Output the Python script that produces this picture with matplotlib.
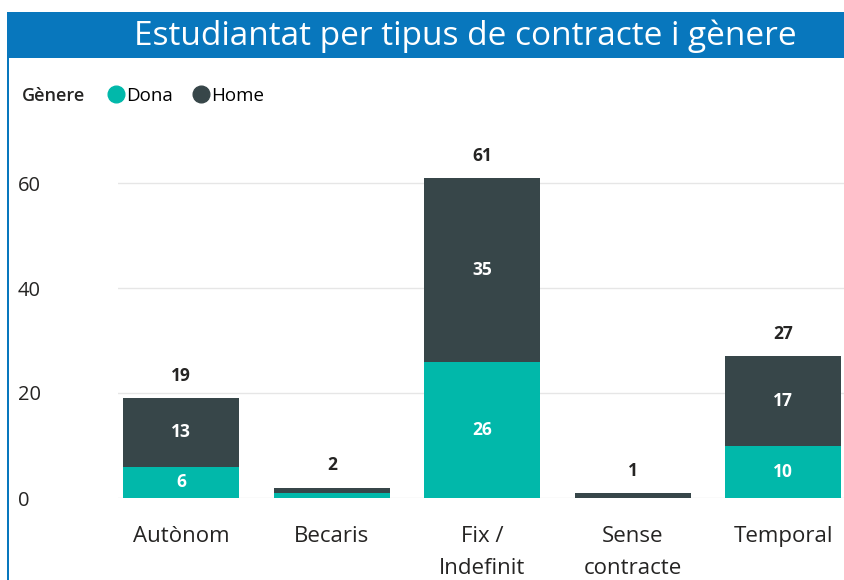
import matplotlib
matplotlib.use('Agg')
import numpy as np
import matplotlib.pyplot as plt
from matplotlib.patches import Rectangle
from matplotlib.lines import Line2D

categories = ['Autònom', 'Becaris', 'Fix /\nIndefinit', 'Sense\ncontracte', 'Temporal']
dona = [6, 1, 26, 0, 10]
home = [13, 1, 35, 1, 17]
yticks = [0, 20, 40, 60]

teal = '#01B8AA'
dark = '#374649'
blue = '#0877BD'
font = ['Open Sans', 'DejaVu Sans']
plt.rcParams['font.family'] = font

fig = plt.figure(figsize=(8.45, 5.8), dpi=100)
W, H = 845, 580

# frame: title bar and left border
fig.patches.append(Rectangle((7 / W, 1 - 58 / H), 1, 46 / H, transform=fig.transFigure,
                             facecolor=blue, edgecolor='none'))
fig.patches.append(Rectangle((7 / W, 0), 2 / W, 1 - 12 / H, transform=fig.transFigure,
                             facecolor=blue, edgecolor='none'))
fig.text(465 / W, 1 - 36 / H, 'Estudiantat per tipus de contracte i gènere', color='white',
         fontsize=24, ha='center', va='center')

# legend
fig.text(22 / W, 1 - 96 / H, 'Gènere', fontsize=13, fontweight='semibold', color='#252423',
         ha='left', va='center')
handles = [Line2D([], [], marker='o', ls='none', color=teal, markersize=12),
           Line2D([], [], marker='o', ls='none', color=dark, markersize=12)]
fig.legend(handles, ['Dona', 'Home'], loc='center left', bbox_to_anchor=(106 / W, 1 - 96 / H),
           ncol=2, frameon=False, handletextpad=0.0, columnspacing=0.9, fontsize=13.5,
           handlelength=1.1, borderaxespad=0, borderpad=0)

ax = fig.add_axes([118 / W, 82 / H, 1 - 118 / W, (498 - 151.5) / H])
x = np.arange(len(categories))
w = 0.77
ax.bar(x, dona, w, color=teal, zorder=3)
ax.bar(x, home, w, bottom=dona, color=dark, zorder=3)

for i in range(len(categories)):
    if dona[i] >= 3:
        ax.text(x[i], dona[i] / 2, str(dona[i]), color='white', fontsize=12.5, fontweight='bold',
                ha='center', va='center', zorder=4)
    if home[i] >= 3:
        ax.text(x[i], dona[i] + home[i] / 2, str(home[i]), color='white', fontsize=12.5,
                fontweight='bold', ha='center', va='center', zorder=4)
    tot = dona[i] + home[i]
    ax.annotate(str(tot), (x[i], tot), xytext=(0, 16), textcoords='offset points',
                ha='center', va='center', fontsize=12.5, fontweight='bold', color='#252423')

ax.set_xlim(-0.42, 4.41)
ax.set_ylim(0, 66)
ax.set_yticks(yticks)
ax.set_xticks(x)
ax.set_xticklabels(categories, fontsize=16, color='#252423', linespacing=1.7, va='top')
ax.tick_params(axis='x', length=0, pad=20)
ax.tick_params(axis='y', length=0, pad=72, labelsize=14.5, labelcolor='#252423')
for lab in ax.get_yticklabels():
    lab.set_horizontalalignment('left')
ax.grid(axis='y', color='#E6E6E6', lw=1, zorder=0)
for s in ax.spines.values():
    s.set_visible(False)

fig.savefig('out.png', dpi=100)
